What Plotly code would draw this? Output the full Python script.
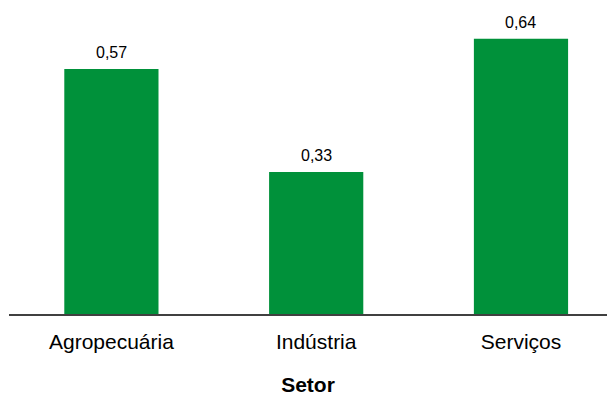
import plotly.graph_objects as go

setores = ["Agropecuária", "Indústria", "Serviços"]
valores = [0.57, 0.33, 0.64]

verde = "rgb(0,145,58)"
fonte = "Liberation Sans, Arial, sans-serif"

fig = go.Figure(
    go.Bar(
        x=setores,
        y=valores,
        marker=dict(color=verde, line=dict(width=0)),
        width=0.46,
        hoverinfo="x+y",
    )
)

# value labels above each bar, with decimal comma
for s, v in zip(setores, valores):
    fig.add_annotation(
        x=s, y=v, text=f"{v:.2f}".replace(".", ","),
        showarrow=False, yanchor="bottom", yshift=6,
        font=dict(family=fonte, size=16, color="#000000"),
    )

fig.update_layout(
    width=607, height=396,
    margin=dict(l=9, r=0, t=13, b=82),
    paper_bgcolor="white", plot_bgcolor="white",
    showlegend=False,
    font=dict(family=fonte, color="#000000"),
    xaxis=dict(
        type="category",
        range=[-0.5, 2.42],
        showline=True, linecolor="#404040", linewidth=1.5,
        showgrid=False, zeroline=False,
        ticks="outside", ticklen=8, tickcolor="rgba(0,0,0,0)",
        tickfont=dict(size=21),
        title=dict(text="<b>Setor</b>", font=dict(size=21), standoff=27),
    ),
    yaxis=dict(
        range=[0, 0.7], visible=False, showgrid=False, zeroline=False,
    ),
)

fig.write_html("out.html")
